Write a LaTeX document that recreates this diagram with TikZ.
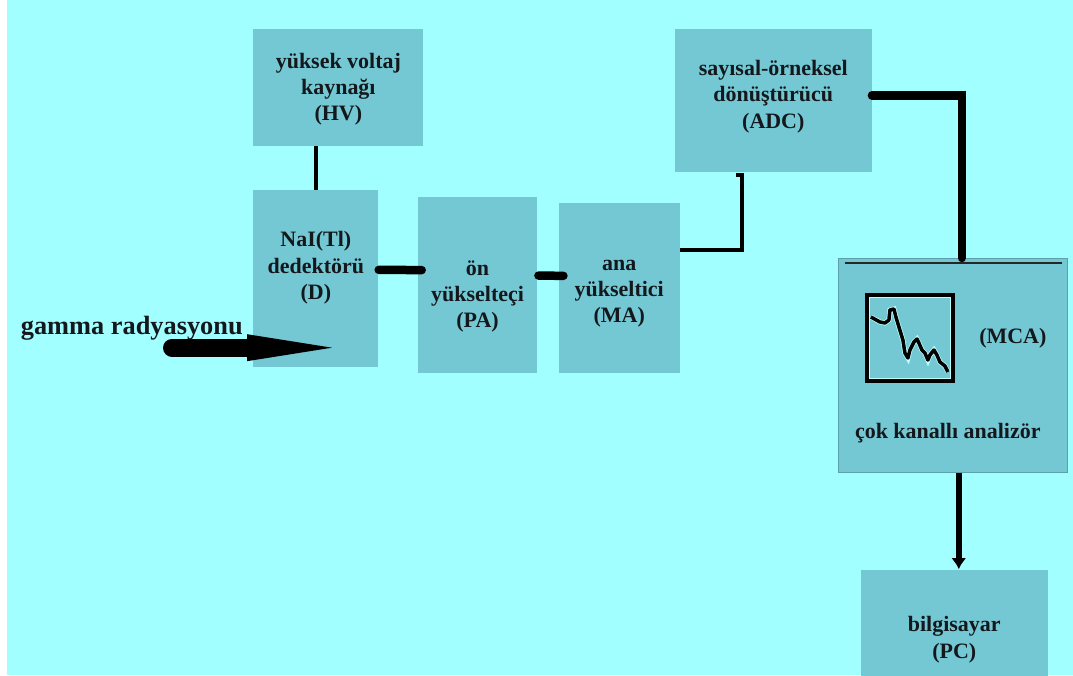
\documentclass[tikz,border=0pt]{standalone}
\usepackage{fontspec}
\setmainfont{Liberation Serif}
\usetikzlibrary{arrows.meta, positioning}

\definecolor{bgcyan}{RGB}{161,255,255}
\definecolor{boxteal}{RGB}{115,200,212}
\definecolor{inkdark}{RGB}{20,24,28}
\definecolor{specglow}{RGB}{185,255,255}

\begin{document}
\begin{tikzpicture}[
    >=Stealth,
    block/.style={fill=boxteal, inner sep=2pt, align=center,
                  font=\fontsize{12.5}{15}\selectfont\bfseries, text=inkdark},
    tag/.style={font=\fontsize{12.5}{15}\selectfont\bfseries, text=inkdark,
                inner sep=0pt},
    wire/.style={draw=black, line width=0.085cm},
    bus/.style={draw=black, line width=0.17cm, line cap=round},
    ray/.style={draw=black, line width=0.36cm, line cap=round,
                -{Triangle[length=1.7cm, width=0.54cm, line width=0pt]}},
    raylbl/.style={font=\fontsize{15}{18}\selectfont\bfseries, text=inkdark,
                   inner sep=0pt},
    screen/.style={draw=black, line width=0.1cm, fill=boxteal,
                   minimum size=1.7cm, inner sep=0pt},
    spec/.style={draw=black, line width=0.07cm, line join=round,
                 preaction={draw=specglow, line width=0.1cm}}
  ]
  \useasboundingbox (0,0) rectangle (21.46,13.52);
  \fill[bgcyan] (0.14,0.02) rectangle (21.46,13.52);

  % blocks
  \node[block, minimum width=2.5cm, minimum height=3.54cm, anchor=north west,
        text height=43.6pt, text depth=20pt]
    (D) at (5.06,9.72) {NaI(Tl)\\dedektörü\\(D)};
  \node[block, minimum width=3.4cm, minimum height=2.34cm,
        above=0.88cm of D.north west, anchor=south west,
        text height=43.4pt, text depth=5pt]
    (HV) {yüksek voltaj\\kaynağı\\(HV)};
  \node[block, minimum width=2.38cm, minimum height=3.51cm,
        right=0.78cm of D.south east, anchor=south west, yshift=-0.11cm,
        text height=68.6pt, text depth=20pt]
    (PA) {ön\\yükselteçi\\(PA)};
  \node[block, minimum width=2.42cm, minimum height=3.4cm,
        right=0.42cm of PA.south east, anchor=south west,
        text height=59.8pt, text depth=20pt]
    (MA) {ana\\yükseltici\\(MA)};
  \node[block, minimum width=3.93cm, minimum height=2.87cm,
        right=5.02cm of HV.north east, anchor=north west,
        text height=41.6pt, text depth=10pt]
    (ADC) {sayısal-örneksel\\dönüştürücü\\(ADC)};
  \node[block, draw=boxteal!80!black, line width=0.4pt,
        minimum width=4.58cm, minimum height=4.29cm,
        below=1.71cm of ADC.south east, anchor=north west, xshift=-0.68cm]
    (MCA) {};
  \node[block, minimum width=3.74cm, minimum height=2.6cm,
        below=1.92cm of MCA.south west, anchor=north west, xshift=0.45cm,
        text height=36.8pt, text depth=10pt]
    (PC) {bilgisayar\\(PC)};

  % analyser inside
  \draw[black!85, line width=0.05cm]
    ([shift={(0.14,-0.1)}]MCA.north west) -- ([shift={(-0.12,-0.1)}]MCA.north east);
  \node[screen, below right=0.7cm and 0.54cm of MCA.north west] (scr) {};
  \draw[specglow, line width=0.03cm]
    ([shift={(0.09,-0.09)}]scr.north west) rectangle ([shift={(-0.09,0.09)}]scr.south east);
  \begin{scope}[shift={(scr.north west)}, x=0.02cm, y=-0.02cm]
    \draw[spec] (6,24) -- (15,29) -- (20,30) -- (24,27) -- (25,17) -- (29,16)
      -- (31,24) -- (34,34) -- (38,47) -- (40,60) -- (43,65) -- (45,57)
      -- (49,49) -- (52,46) -- (54,50) -- (57,57) -- (60,60) -- (63,67)
      -- (65,62) -- (69,57) -- (72,62) -- (75,69) -- (80,73) -- (83,79);
  \end{scope}
  \node[tag, right=0.48cm of scr] (mcatag) {(MCA)};
  \node[tag, above=0.6cm of MCA.south, xshift=-0.1cm] (mcaname) {çok kanallı analizör};

  % connections
  \draw[wire] (D.north) -- (D.north |- HV.south);
  \draw[bus] ([yshift=0.18cm]D.east) -- ([xshift=0.08cm,yshift=0.3cm]PA.west);
  \draw[bus] ([xshift=0.02cm,yshift=0.19cm]PA.east) -- ([xshift=0.1cm,yshift=0.24cm]MA.west);
  \draw[wire, line width=0.08cm] ([yshift=0.75cm]MA.east)
    -| ([xshift=-0.63cm,yshift=-0.05cm]ADC.south) -- ++(-0.12,0);
  \draw[bus] ([yshift=0.1cm]ADC.east) -| ([xshift=0.18cm]MCA.north);
  \draw[wire, line width=0.11cm, -{Latex[length=0.22cm, width=0.3cm]}]
    ([xshift=0.12cm]MCA.south) -- ([xshift=0.09cm]PC.north);

  % incoming radiation
  \coordinate (gtip) at ([shift={(1.58,0.4)}]D.south west);
  \coordinate[left=3.2cm of gtip] (gsrc);
  \draw[ray] (gsrc) -- (gtip);
  \node[raylbl, anchor=base west] (gammatxt) at ([shift={(-3.03,0.27)}]gsrc)
    {gamma radyasyonu};
\end{tikzpicture}
\end{document}
